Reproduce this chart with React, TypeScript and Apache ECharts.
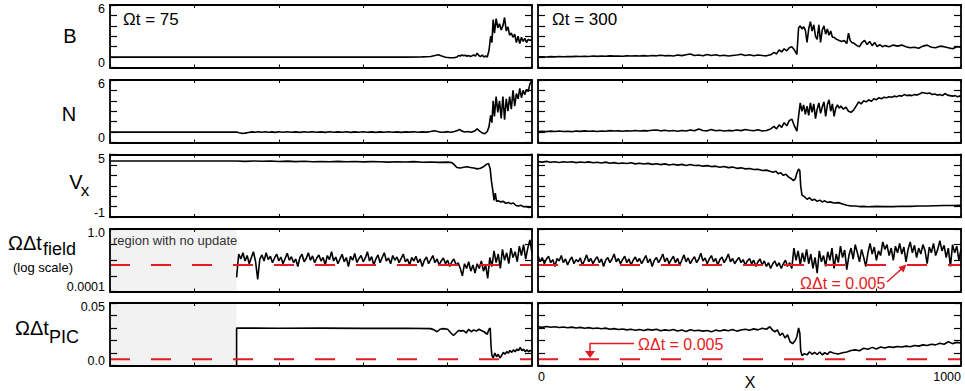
import React, { useEffect, useRef } from 'react';
import * as echarts from 'echarts';

// ---------- data ----------
const X_MIN = 0;
const X_MAX = 1000;
const X_TICK = 200;
const NO_UPDATE_END = 300;
const THRESHOLD = 0.005;

const FIELD_STEP = 5;
const FIELD_LEFT_START = 300;
const FIELD_RIGHT_START = 0;

// B (Ωt = 75)
const bLeft: number[][] = [
  [0, 1.0], [600, 1.0], [700, 1.0], [740, 1.02], [760, 1.05], [770, 1.15], [778, 1.22], [786, 1.1], [795, 0.98], [805, 0.93],
  [815, 0.94], [822, 1.0], [826, 1.15], [830, 1.1], [834, 1.2], [838, 1.12], [842, 1.18], [846, 1.08], [850, 1.15], [854, 1.05],
  [858, 1.12], [862, 1.2], [866, 1.1], [870, 1.38], [874, 1.15], [878, 1.05], [882, 1.2], [886, 1.0], [890, 1.1], [894, 1.0],
  [898, 1.6], [902, 3.0], [905, 2.4], [908, 4.6], [911, 3.3], [915, 4.7], [919, 3.8], [923, 4.2], [927, 3.6], [931, 4.0],
  [935, 4.8], [939, 3.5], [943, 3.9], [947, 3.1], [951, 3.3], [955, 2.9], [959, 3.2], [963, 2.4], [967, 3.0], [971, 2.3],
  [975, 2.9], [979, 2.5], [983, 2.8], [987, 2.4], [991, 2.7], [995, 2.6], [1000, 2.7],
];
// B (Ωt = 300)
const bRight: number[][] = [
  [0, 1.02], [10, 1.03], [20, 1.01], [30, 1.04], [40, 1.02], [50, 1.05], [60, 1.03], [70, 1.06], [80, 1.04], [90, 1.07],
  [100, 1.05], [110, 1.08], [120, 1.06], [130, 1.1], [140, 1.07], [150, 1.1], [160, 1.08], [170, 1.12], [180, 1.09], [190, 1.11],
  [200, 1.08], [210, 1.12], [220, 1.1], [230, 1.13], [240, 1.1], [250, 1.14], [260, 1.11], [270, 1.15], [280, 1.12], [290, 1.18],
  [300, 1.12], [310, 1.15], [320, 1.1], [330, 1.2], [340, 1.14], [350, 1.22], [360, 1.3], [370, 1.15], [380, 1.2], [390, 1.13],
  [400, 1.25], [410, 1.16], [420, 1.22], [430, 1.12], [440, 1.18], [450, 1.1], [460, 1.15], [470, 1.2], [480, 1.28], [490, 1.15],
  [500, 1.22], [510, 1.12], [520, 1.2], [530, 1.15], [540, 1.12], [550, 1.22], [558, 1.45], [564, 1.3], [570, 1.7], [576, 1.5],
  [582, 1.8], [588, 1.6], [594, 1.9], [600, 2.0], [606, 1.7], [612, 1.25], [616, 3.8], [620, 4.0], [624, 3.7], [628, 3.9],
  [632, 3.6], [636, 2.4], [640, 3.7], [644, 4.4], [648, 3.5], [652, 4.1], [656, 3.0], [660, 2.7], [664, 4.1], [668, 2.4],
  [672, 3.6], [676, 4.0], [680, 3.2], [684, 3.7], [688, 3.1], [692, 3.5], [696, 2.9], [700, 2.9], [706, 2.7], [712, 2.6],
  [718, 2.5], [724, 2.6], [730, 2.3], [734, 3.3], [738, 2.6], [742, 2.4], [748, 2.3], [754, 2.1], [760, 2.0], [766, 2.4],
  [772, 2.6], [778, 2.2], [784, 2.5], [790, 2.1], [796, 2.4], [802, 2.0], [808, 2.2], [814, 2.0], [820, 2.1], [830, 2.0],
  [840, 2.15], [850, 2.05], [860, 2.15], [870, 2.0], [880, 1.9], [890, 1.95], [900, 1.85], [910, 2.05], [920, 2.15], [930, 1.95],
  [940, 1.9], [950, 2.05], [960, 2.0], [970, 1.9], [980, 1.8], [990, 2.0], [1000, 1.95],
];

// N (Ωt = 75)
const nLeft: number[][] = [
  [0, 1.0], [300, 1.0], [306, 0.93], [312, 0.88], [320, 0.9], [328, 0.96], [336, 1.02], [344, 0.98], [352, 1.03], [360, 0.99],
  [368, 1.04], [376, 0.98], [384, 1.02], [392, 0.97], [400, 1.03], [410, 0.99], [420, 1.03], [430, 0.98], [440, 1.02], [450, 0.97],
  [460, 1.03], [470, 0.99], [480, 1.04], [490, 0.98], [500, 1.02], [510, 0.97], [520, 1.03], [530, 0.98], [540, 1.02], [550, 0.99],
  [560, 1.03], [570, 0.97], [580, 1.02], [590, 0.98], [600, 1.03], [610, 0.99], [620, 1.02], [630, 0.97], [640, 1.02], [650, 0.98],
  [660, 1.03], [670, 0.99], [680, 1.02], [690, 0.97], [700, 1.02], [710, 1.0], [720, 1.03], [730, 0.98], [740, 1.02], [750, 1.0],
  [760, 1.05], [768, 1.12], [776, 1.05], [784, 0.98], [792, 1.0], [800, 1.04], [808, 0.98], [816, 1.05], [822, 1.12], [828, 1.25],
  [834, 1.1], [840, 1.0], [848, 1.05], [856, 0.98], [864, 1.1], [870, 1.3], [876, 1.1], [882, 0.92], [888, 0.85], [894, 1.05],
  [898, 1.5], [902, 2.6], [905, 1.9], [908, 4.0], [911, 2.5], [915, 4.4], [919, 2.9], [923, 4.0], [927, 2.3], [931, 4.4],
  [935, 2.2], [939, 4.2], [943, 3.0], [947, 4.4], [951, 3.2], [955, 5.0], [959, 3.5], [963, 4.7], [967, 4.2], [971, 5.2],
  [975, 4.3], [979, 5.0], [983, 4.6], [987, 5.1], [991, 4.9], [995, 5.6], [1000, 6.0],
];
// N (Ωt = 300)
const nRight: number[][] = [
  [0, 1.05], [10, 1.08], [20, 1.04], [30, 1.09], [40, 1.06], [50, 1.1], [60, 1.05], [70, 1.08], [80, 1.04], [90, 1.1],
  [100, 1.07], [110, 1.12], [120, 1.08], [130, 1.11], [140, 1.06], [150, 1.1], [160, 1.08], [170, 1.14], [180, 1.1], [190, 1.12],
  [200, 1.08], [210, 1.13], [220, 1.1], [230, 1.15], [240, 1.11], [250, 1.14], [260, 1.12], [270, 1.18], [280, 1.2], [290, 1.12],
  [300, 1.17], [310, 1.1], [320, 1.16], [330, 1.08], [340, 1.15], [350, 1.1], [360, 1.2], [370, 1.12], [380, 1.3], [390, 1.15],
  [400, 1.12], [410, 1.24], [420, 1.13], [430, 1.18], [440, 1.1], [450, 1.16], [460, 1.12], [470, 1.2], [480, 1.14], [490, 1.25],
  [500, 1.18], [510, 1.12], [520, 1.22], [530, 1.1], [540, 1.15], [550, 1.3], [558, 1.55], [564, 1.3], [570, 1.7], [576, 1.45],
  [582, 1.9], [588, 1.6], [594, 2.1], [600, 2.25], [606, 1.6], [612, 1.1], [616, 2.5], [620, 3.8], [624, 3.0], [628, 3.6],
  [632, 2.7], [636, 3.5], [640, 2.6], [644, 3.8], [648, 2.9], [652, 3.7], [656, 2.3], [660, 3.2], [664, 3.8], [668, 2.8],
  [672, 3.4], [676, 3.9], [680, 2.5], [684, 3.6], [688, 4.1], [692, 3.0], [696, 3.7], [700, 2.5], [704, 3.3], [708, 3.6],
  [712, 3.3], [716, 3.5], [722, 3.2], [728, 3.4], [734, 3.0], [740, 2.9], [746, 3.1], [752, 3.5], [758, 3.9], [764, 3.7],
  [770, 4.0], [776, 3.9], [782, 4.1], [788, 3.95], [794, 4.2], [800, 4.1], [806, 4.3], [812, 4.2], [818, 4.35], [824, 4.3],
  [830, 4.4], [836, 4.35], [842, 4.45], [848, 4.4], [854, 4.5], [860, 4.45], [866, 4.6], [872, 4.5], [878, 4.55], [884, 4.5],
  [890, 4.6], [896, 4.55], [902, 4.65], [908, 4.8], [914, 4.75], [920, 4.7], [926, 4.75], [932, 4.6], [938, 4.65], [944, 4.55],
  [950, 4.6], [956, 4.5], [962, 4.7], [968, 4.55], [974, 4.5], [980, 4.45], [986, 4.5], [992, 4.4], [1000, 4.5],
];

// Vx (Ωt = 75)
const vxLeft: number[][] = [
  [0, 4.38], [300, 4.37], [320, 4.34], [340, 4.38], [360, 4.35], [380, 4.37], [400, 4.33], [420, 4.36], [440, 4.32], [460, 4.35],
  [480, 4.3], [500, 4.33], [520, 4.31], [540, 4.34], [560, 4.3], [580, 4.33], [600, 4.29], [620, 4.32], [640, 4.3], [660, 4.27],
  [680, 4.31], [700, 4.28], [720, 4.32], [740, 4.26], [760, 4.28], [780, 4.24], [800, 4.27], [810, 4.22], [815, 4.05], [822, 3.75],
  [830, 3.7], [838, 3.78], [846, 3.82], [854, 3.76], [862, 3.7], [870, 3.62], [878, 3.68], [886, 3.85], [892, 4.05], [897, 4.15],
  [901, 3.6], [904, 2.4], [907, 1.6], [910, 0.6], [913, 1.3], [916, 0.5], [920, 0.55], [926, 0.45], [932, 0.5], [938, 0.32],
  [944, 0.4], [950, 0.28], [956, 0.35], [962, 0.1], [968, 0.05], [974, 0.12], [980, -0.02], [986, 0.0], [992, -0.08], [996, -0.05],
  [1000, -0.04],
];
// Vx (Ωt = 300)
const vxRight: number[][] = [
  [0, 4.32], [10, 4.27], [20, 4.34], [30, 4.26], [40, 4.31], [50, 4.24], [60, 4.3], [70, 4.25], [80, 4.31], [90, 4.22],
  [100, 4.28], [110, 4.23], [120, 4.29], [130, 4.2], [140, 4.26], [150, 4.19], [160, 4.27], [170, 4.16], [180, 4.22], [190, 4.13],
  [200, 4.19], [210, 4.14], [220, 4.2], [230, 4.1], [240, 4.16], [250, 4.09], [260, 4.15], [270, 4.05], [280, 4.11], [290, 4.03],
  [300, 4.1], [310, 4.0], [320, 4.07], [330, 3.98], [340, 4.05], [350, 3.95], [360, 4.04], [370, 3.94], [380, 3.97], [390, 3.88],
  [400, 3.93], [410, 3.84], [420, 3.88], [430, 3.77], [440, 3.84], [450, 3.74], [460, 3.79], [470, 3.67], [480, 3.72], [490, 3.62],
  [500, 3.66], [510, 3.56], [520, 3.58], [530, 3.47], [540, 3.5], [550, 3.36], [556, 3.3], [562, 3.4], [568, 3.15], [574, 3.25],
  [580, 3.0], [586, 3.1], [592, 2.85], [598, 2.7], [604, 2.5], [608, 2.65], [612, 3.2], [616, 3.6], [619, 3.45], [621, 2.0],
  [624, 1.1], [630, 0.95], [636, 0.7], [642, 0.85], [648, 0.6], [654, 0.7], [660, 0.5], [666, 0.62], [672, 0.45], [678, 0.55],
  [684, 0.4], [690, 0.45], [700, 0.35], [710, 0.38], [720, 0.25], [730, 0.12], [740, 0.05], [750, 0.06], [760, 0.0], [770, 0.02],
  [780, -0.02], [790, 0.0], [800, 0.02], [820, 0.0], [840, 0.0], [860, 0.03], [880, 0.02], [900, 0.05], [920, 0.06], [940, 0.08],
  [960, 0.1], [980, 0.1], [1000, 0.12],
];

// ΩΔt_field, sampled every FIELD_STEP from FIELD_LEFT_START (Ωt = 75)
const fieldLeft: number[] = [
  0.0008, 0.025, 0.012, 0.03, 0.009, 0.02, 0.006, 0.015, 0.035, 0.008,
  0.0006, 0.012, 0.022, 0.009, 0.03, 0.011, 0.018, 0.007, 0.014, 0.025,
  0.009, 0.016, 0.006, 0.013, 0.028, 0.01, 0.017, 0.007, 0.012, 0.004,
  0.015, 0.024, 0.008, 0.013, 0.03, 0.01, 0.019, 0.007, 0.014, 0.022,
  0.009, 0.015, 0.005, 0.02, 0.011, 0.035, 0.009, 0.016, 0.006, 0.012,
  0.024, 0.008, 0.015, 0.004, 0.018, 0.01, 0.027, 0.007, 0.013, 0.02,
  0.008, 0.014, 0.035, 0.009, 0.017, 0.005, 0.012, 0.022, 0.007, 0.015,
  0.03, 0.009, 0.014, 0.006, 0.02, 0.01, 0.016, 0.007, 0.013, 0.025,
  0.008, 0.012, 0.005, 0.015, 0.009, 0.018, 0.007, 0.012, 0.004, 0.01,
  0.016, 0.006, 0.011, 0.02, 0.007, 0.012, 0.005, 0.009, 0.014, 0.006,
  0.01, 0.004, 0.008, 0.012, 0.005, 0.007, 0.003, 0.001, 0.006, 0.003,
  0.008, 0.002, 0.005, 0.0015, 0.006, 0.003, 0.009, 0.002, 0.005, 0.0007,
  0.015, 0.004, 0.04, 0.007, 0.025, 0.003, 0.05, 0.01, 0.03, 0.006,
  0.06, 0.015, 0.035, 0.008, 0.08, 0.02, 0.1, 0.012, 0.06, 0.2,
  0.03,
];
// ΩΔt_field, sampled every FIELD_STEP from FIELD_RIGHT_START (Ωt = 300)
const fieldRight: number[] = [
  0.02, 0.008, 0.015, 0.006, 0.012, 0.018, 0.007, 0.011, 0.004, 0.013,
  0.009, 0.02, 0.007, 0.012, 0.005, 0.01, 0.016, 0.006, 0.011, 0.008,
  0.014, 0.005, 0.01, 0.022, 0.008, 0.013, 0.006, 0.011, 0.017, 0.007,
  0.012, 0.004, 0.01, 0.015, 0.007, 0.012, 0.025, 0.008, 0.013, 0.006,
  0.011, 0.018, 0.007, 0.012, 0.005, 0.01, 0.016, 0.008, 0.013, 0.006,
  0.011, 0.02, 0.007, 0.012, 0.004, 0.01, 0.015, 0.007, 0.012, 0.025,
  0.008, 0.014, 0.006, 0.011, 0.018, 0.007, 0.013, 0.005, 0.01, 0.022,
  0.008, 0.014, 0.006, 0.011, 0.017, 0.007, 0.012, 0.028, 0.009, 0.014,
  0.006, 0.012, 0.02, 0.008, 0.013, 0.005, 0.011, 0.016, 0.007, 0.012,
  0.025, 0.008, 0.013, 0.006, 0.01, 0.015, 0.007, 0.011, 0.005, 0.009,
  0.013, 0.006, 0.01, 0.004, 0.008, 0.012, 0.005, 0.009, 0.004, 0.007,
  0.003, 0.006, 0.009, 0.004, 0.007, 0.003, 0.006, 0.01, 0.004, 0.007,
  0.003, 0.06, 0.01, 0.04, 0.005, 0.03, 0.008, 0.05, 0.006, 0.025,
  0.003, 0.015, 0.0015, 0.04, 0.008, 0.02, 0.004, 0.035, 0.01, 0.06,
  0.003, 0.025, 0.007, 0.08, 0.015, 0.045, 0.0025, 0.02, 0.06, 0.012,
  0.1, 0.03, 0.008, 0.05, 0.015, 0.004, 0.03, 0.12, 0.025, 0.07,
  0.01, 0.04, 0.02, 0.15, 0.05, 0.1, 0.02, 0.06, 0.01, 0.08,
  0.03, 0.12, 0.025, 0.07, 0.008, 0.05, 0.15, 0.03, 0.09, 0.015,
  0.06, 0.025, 0.1, 0.04, 0.006, 0.07, 0.03, 0.12, 0.02, 0.05,
  0.18, 0.04, 0.09, 0.015, 0.06, 0.004, 0.1, 0.03, 0.08, 0.01,
  0.05,
];

// ΩΔt_PIC (Ωt = 75)
const picLeft: number[][] = [
  [300, 0], [300, 0.03], [400, 0.0298], [500, 0.0299], [600, 0.0297], [700, 0.0298], [760, 0.0295], [768, 0.0285], [775, 0.027], [782, 0.029],
  [790, 0.0295], [800, 0.029], [808, 0.026], [814, 0.024], [820, 0.026], [826, 0.028], [832, 0.0275], [838, 0.028], [844, 0.026], [850, 0.029],
  [856, 0.027], [862, 0.0285], [868, 0.0275], [874, 0.029], [880, 0.028], [886, 0.027], [890, 0.026], [894, 0.025], [898, 0.029], [901, 0.03],
  [903, 0.015], [905, 0.008], [908, 0.006], [912, 0.01], [916, 0.007], [920, 0.009], [924, 0.006], [928, 0.008], [932, 0.0105], [936, 0.009],
  [940, 0.011], [944, 0.01], [948, 0.012], [952, 0.0105], [956, 0.0125], [960, 0.011], [964, 0.013], [968, 0.012], [972, 0.0145], [976, 0.012],
  [980, 0.013], [984, 0.011], [988, 0.0125], [992, 0.011], [996, 0.012], [1000, 0.0115],
];
// ΩΔt_PIC (Ωt = 300)
const picRight: number[][] = [
  [0, 0.031], [10, 0.0305], [20, 0.0312], [30, 0.0306], [40, 0.031], [50, 0.0304], [60, 0.0308], [70, 0.0302], [80, 0.0307], [90, 0.03],
  [100, 0.0305], [110, 0.0298], [120, 0.0303], [130, 0.0296], [140, 0.03], [150, 0.0294], [160, 0.0299], [170, 0.029], [180, 0.0295], [190, 0.0288],
  [200, 0.0292], [210, 0.0285], [220, 0.029], [230, 0.0282], [240, 0.0288], [250, 0.028], [260, 0.0289], [270, 0.0283], [280, 0.029], [290, 0.0278],
  [300, 0.0285], [310, 0.028], [320, 0.0288], [330, 0.0276], [340, 0.0284], [350, 0.0272], [360, 0.0286], [370, 0.0278], [380, 0.0282], [390, 0.0275],
  [400, 0.028], [410, 0.027], [420, 0.0283], [430, 0.0276], [440, 0.0285], [450, 0.0278], [460, 0.0288], [470, 0.0275], [480, 0.0284], [490, 0.029],
  [500, 0.0282], [510, 0.0293], [520, 0.0285], [530, 0.0298], [540, 0.029], [548, 0.031], [554, 0.0285], [560, 0.027], [566, 0.0285], [572, 0.024],
  [578, 0.026], [584, 0.022], [590, 0.0245], [596, 0.019], [602, 0.0175], [608, 0.02], [612, 0.023], [616, 0.03], [619, 0.026], [621, 0.012],
  [624, 0.008], [630, 0.0095], [636, 0.0085], [642, 0.011], [648, 0.009], [654, 0.0105], [660, 0.0088], [666, 0.0108], [672, 0.0086], [678, 0.0102],
  [684, 0.0089], [690, 0.011], [700, 0.0098], [710, 0.0092], [720, 0.0102], [730, 0.0108], [740, 0.012], [750, 0.0125], [760, 0.0118], [770, 0.0138],
  [780, 0.013], [790, 0.0145], [800, 0.0132], [810, 0.0148], [820, 0.014], [830, 0.015], [840, 0.0145], [850, 0.0152], [860, 0.0148], [870, 0.0155],
  [880, 0.015], [890, 0.016], [900, 0.0155], [910, 0.0165], [920, 0.016], [930, 0.017], [940, 0.0165], [950, 0.0178], [960, 0.017], [970, 0.019],
  [980, 0.0175], [990, 0.0185], [1000, 0.018],
];

// y-axis definitions per row
const Y_MIN = [0, 0, -1, 0.0001, 0];
const Y_MAX = [6, 6, 5, 1, 0.05];
const Y_INTERVAL = [1, 1, 1, null, 0.01];
const Y_LOG = [false, false, false, true, false];
const Y_MIN_LABEL = ['0', '0', '-1', '0.0001', '0.0'];
const Y_MAX_LABEL = ['6', '6', '5', '1.0', '0.05'];
const X_TICK_LABELS = ['0', '1000'];

// ---------- layout / style ----------
const FONT = "'Liberation Sans', Arial, Helvetica, sans-serif";
const RED = '#e31b23';
const INK = '#000';
const ROW_TOPS = [5, 80, 154.5, 229, 303];
const ROW_H = 62.5;
const COL_LEFT = [110, 538];
const COL_W = [422, 423];
const AXIS_W = 1.8;

const near = (v: number, t: number) =>
  t === 0 ? Math.abs(v) < 1e-12 : Math.abs(v / t - 1) < 1e-6;

function buildOption() {
  const fieldLeftPts = fieldLeft.map((v, i) => [FIELD_LEFT_START + i * FIELD_STEP, v]);
  const fieldRightPts = fieldRight.map((v, i) => [FIELD_RIGHT_START + i * FIELD_STEP, v]);
  const panelData = [
    [bLeft, bRight],
    [nLeft, nRight],
    [vxLeft, vxRight],
    [fieldLeftPts, fieldRightPts],
    [picLeft, picRight],
  ];

  const grid: any[] = [];
  const xAxis: any[] = [];
  const yAxis: any[] = [];
  const series: any[] = [];

  for (let r = 0; r < 5; r++) {
    for (let c = 0; c < 2; c++) {
      const i = r * 2 + c;
      grid.push({
        left: COL_LEFT[c],
        top: ROW_TOPS[r],
        width: COL_W[c],
        height: ROW_H,
        containLabel: false,
        outerBoundsMode: 'none',
      });
      const isBR = r === 4 && c === 1;
      const xBase = {
        gridIndex: i,
        type: 'value',
        min: X_MIN,
        max: X_MAX,
        interval: X_TICK,
        z: 10,
        axisLine: { show: true, onZero: false, lineStyle: { color: INK, width: AXIS_W } },
        axisTick: { show: true, inside: true, length: 3, lineStyle: { color: INK, width: 1 } },
        splitLine: { show: false },
      };
      xAxis.push({
        ...xBase,
        position: 'bottom',
        axisLabel: {
          show: isBR,
          margin: 5,
          fontSize: 12.5,
          fontFamily: FONT,
          color: INK,
          alignMinLabel: 'left',
          alignMaxLabel: 'right',
          formatter: (v: number) => (v === X_MIN ? X_TICK_LABELS[0] : v === X_MAX ? X_TICK_LABELS[1] : ''),
        },
      });
      xAxis.push({ ...xBase, position: 'top', axisLabel: { show: false } });

      const yBase: any = {
        gridIndex: i,
        type: Y_LOG[r] ? 'log' : 'value',
        min: Y_MIN[r],
        max: Y_MAX[r],
        z: 10,
        axisLine: { show: true, onZero: false, lineStyle: { color: INK, width: AXIS_W } },
        axisTick: { show: true, inside: true, length: 7, lineStyle: { color: INK, width: 1.2 } },
        splitLine: { show: false },
      };
      if (Y_LOG[r]) {
        yBase.logBase = 10;
        yBase.splitNumber = 4;
      } else {
        yBase.interval = Y_INTERVAL[r];
      }
      yAxis.push({
        ...yBase,
        position: 'left',
        axisLabel: {
          show: c === 0,
          margin: 5,
          fontSize: 12.5,
          fontFamily: FONT,
          color: INK,
          formatter: (v: number) => {
            if (near(v, Y_MAX[r])) return `{t|${Y_MAX_LABEL[r]}}`;
            if (near(v, Y_MIN[r])) return `{b|${Y_MIN_LABEL[r]}}`;
            return '';
          },
          rich: {
            t: { padding: [8, 0, 0, 0], fontSize: 12.5, fontFamily: FONT, color: INK },
            b: { padding: [0, 0, 9, 0], fontSize: 12.5, fontFamily: FONT, color: INK },
          },
        },
      });
      yAxis.push({ ...yBase, position: 'right', axisLabel: { show: false } });

      const ax = { xAxisIndex: 2 * i, yAxisIndex: 2 * i };

      if (c === 0 && r >= 3) {
        series.push({
          ...ax,
          type: 'line',
          z: 1,
          silent: true,
          showSymbol: false,
          data: [[X_MIN, Y_MIN[r]]],
          lineStyle: { opacity: 0 },
          markArea: {
            silent: true,
            itemStyle: { color: '#f2f2f2' },
            data: [[{ xAxis: X_MIN }, { xAxis: NO_UPDATE_END }]],
          },
        });
      }

      series.push({
        ...ax,
        type: 'line',
        z: 2,
        showSymbol: false,
        silent: true,
        data: panelData[r][c],
        lineStyle: { color: INK, width: 1.6 },
      });

      if (r >= 3) {
        series.push({
          ...ax,
          type: 'line',
          z: 3,
          showSymbol: false,
          silent: true,
          data: [[X_MIN, THRESHOLD], [X_MAX, THRESHOLD]],
          lineStyle: { color: RED, width: 2, type: [20, 21] },
        });
      }
    }
  }

  const txt = (text: string, x: number, y: number, size: number, extra: any = {}) => ({
    type: 'text',
    x,
    y,
    z: 20,
    style: {
      text,
      fontSize: size,
      fontFamily: FONT,
      fill: INK,
      align: 'left',
      verticalAlign: 'middle',
      ...extra,
    },
  });

  const graphic: any[] = [
    txt('B', 70, 36, 20, { align: 'center' }),
    txt('N', 69, 114, 20, { align: 'center' }),
    txt('V', 76, 181.5, 20, { align: 'center' }),
    txt('x', 85, 190.5, 17, { align: 'center' }),
    txt('ΩΔt', 8, 243, 20),
    txt('field', 43, 249, 18),
    txt('(log scale)', 43, 267.5, 13, { align: 'center' }),
    txt('ΩΔt', 15, 328, 20),
    txt('PIC', 49, 336.5, 18),
    txt('Ωt = 75', 123, 19, 17),
    txt('Ωt = 300', 552, 19, 17),
    txt('region with no update', 113, 240, 13, { fill: '#333' }),
    txt('X', 750, 382, 16, { align: 'center' }),
    txt('ΩΔt = 0.005', 800, 283, 16, { fill: RED }),
    txt('ΩΔt = 0.005', 638, 344, 16, { fill: RED }),
    {
      type: 'line',
      z: 20,
      shape: { x1: 887, y1: 282, x2: 902, y2: 268.5 },
      style: { stroke: RED, lineWidth: 1.5 },
    },
    {
      type: 'polygon',
      z: 20,
      shape: { points: [[906.5, 264.5], [903.5, 272.5], [898.5, 267]] },
      style: { fill: RED },
    },
    {
      type: 'polyline',
      z: 20,
      shape: { points: [[634, 343.5], [590, 343.5], [590, 352]] },
      style: { stroke: RED, lineWidth: 1.5, fill: null },
    },
    {
      type: 'polygon',
      z: 20,
      shape: { points: [[585, 351], [595, 351], [590, 358]] },
      style: { fill: RED },
    },
  ];

  return {
    animation: false,
    backgroundColor: '#fff',
    grid,
    xAxis,
    yAxis,
    series,
    graphic,
  };
}

export default function App() {
  const ref = useRef<HTMLDivElement>(null);
  useEffect(() => {
    document.body.style.margin = '0';
    const chart = echarts.init(ref.current as HTMLDivElement, null, { renderer: 'svg' });
    chart.setOption(buildOption() as any);
    return () => chart.dispose();
  }, []);
  return <div ref={ref} style={{ width: 965, height: 391 }} />;
}
